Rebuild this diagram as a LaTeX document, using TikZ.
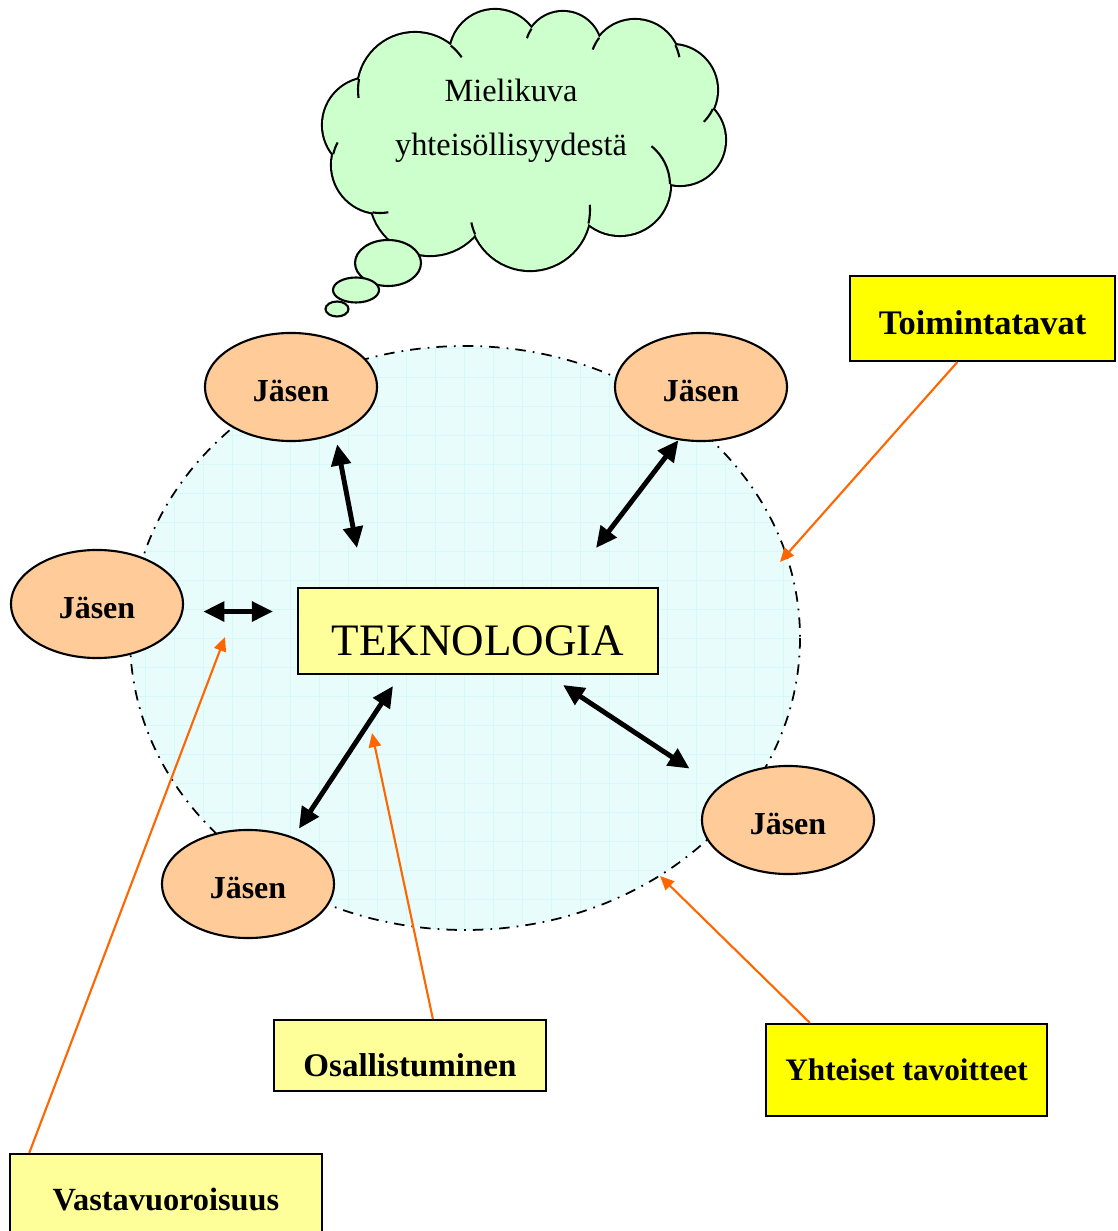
\documentclass[tikz,border=0pt]{standalone}
\usepackage{fontspec}
\setmainfont{Liberation Serif}
\usetikzlibrary{shapes.geometric,arrows.meta}
\definecolor{member}{HTML}{FFCC99}
\definecolor{pale}{HTML}{FFFF99}
\definecolor{bright}{HTML}{FFFF00}
\definecolor{mint}{HTML}{CCFFCC}
\definecolor{sky}{HTML}{E8FCFC}
\definecolor{skygrid}{HTML}{D6F8F8}
\definecolor{tangerine}{HTML}{FF6600}
\tikzset{
 jasen/.style={ellipse,draw,line width=.6pt,fill=member,minimum width=1.72cm,minimum height=1.08cm,inner sep=0pt,text height=8.3pt,text depth=0pt,font=\fontsize{9.1}{10}\selectfont\bfseries},
 lappu/.style={rectangle,draw,line width=.6pt,inner sep=0pt,font=\fontsize{9.2}{10}\selectfont\bfseries},
 vuoro/.style={line width=1.4pt,{Triangle[length=6pt,width=5.5pt]}-{Triangle[length=6pt,width=5.5pt]}},
 nuoli/.style={tangerine,line width=.6pt,-{Triangle[length=4pt,width=3.5pt]}}
}
\begin{document}
\begin{tikzpicture}[x=.01cm,y=-.01cm]
\useasboundingbox (0,0) rectangle (1117,1231);
\begin{scope}
\clip (465,638) ellipse [x radius=335,y radius=292];
\fill[sky] (130,340) rectangle (800,935);
\draw[skygrid,line width=.3pt,step=2.9mm] (100,960) grid (830,300);
\end{scope}
\draw[line width=.5pt,dash dot] (465,638) ellipse [x radius=335,y radius=292];
\begin{scope}
\foreach \x/\y/\r in {415/90/57,495/55/45,563/50/38,635/65/45,672/90/45,680/140/45,620/185/50,530/210/60,430/195/60,380/165/48,370/125/47}
 \draw[line width=1.2pt] (\x,\y) circle [radius=\r];
\foreach \x/\y/\r in {415/90/57,495/55/45,563/50/38,635/65/45,672/90/45,680/140/45,620/185/50,530/210/60,430/195/60,380/165/48,370/125/47}
 \fill[mint] (\x,\y) circle [radius=\r];
\fill[mint] (520,135) ellipse [x radius=150,y radius=80];
\foreach \x/\y/\r/\s/\d in {415/90/57/309/16,563/50/38/214/-16,635/65/45/217/-17,635/65/45/334/16,672/90/45/25/20,620/185/50/359/-50,530/210/60/13/-18,530/210/60/156/12,380/165/48/99/-19,380/165/48/193/15,415/90/57/191/-19}
 \draw[line width=.6pt] (\x,\y) ++(\s:\r) arc [start angle=\s,delta angle=\d,radius=\r];
\foreach \x/\y/\a/\b in {388/263/33/23,356/290/23/12.5,337/309/11.5/7.5}
 \filldraw[fill=mint,line width=.6pt] (\x,\y) ellipse [x radius=\a,y radius=\b];
\end{scope}
\node[font=\fontsize{9.2}{15.4}\selectfont,align=center] (mieli) at (511,121) {Mielikuva\\yhteisöllisyydestä};
\node[jasen] (j1) at (291,387) {Jäsen};
\node[jasen] (j2) at (701,387) {Jäsen};
\node[jasen] (j3) at (97,604) {Jäsen};
\node[jasen] (j4) at (248,884) {Jäsen};
\node[jasen] (j5) at (788,820) {Jäsen};
\node[lappu,fill=pale,minimum width=3.6cm,minimum height=.86cm,text height=14pt,text depth=0pt,font=\fontsize{12.8}{14}\selectfont] (tek) at (478,631) {TEKNOLOGIA};
\node[lappu,fill=bright,minimum width=2.65cm,minimum height=.85cm,text height=9pt,text depth=0pt,font=\fontsize{9.8}{10}\selectfont\bfseries] (toim) at (982.5,318.5) {Toimintatavat};
\node[lappu,fill=pale,minimum width=2.72cm,minimum height=.71cm,text height=12pt,text depth=0pt,font=\fontsize{9.4}{10}\selectfont\bfseries] (osa) at (410,1055.5) {Osallistuminen};
\node[lappu,fill=bright,minimum width=2.81cm,minimum height=.92cm,font=\fontsize{8.9}{10}\selectfont\bfseries] (yht) at (906.5,1070) {Yhteiset tavoitteet};
\node[lappu,fill=pale,minimum width=3.12cm,minimum height=.92cm] (vas) at (166,1200) {Vastavuoroisuus};
\coordinate (k1) at (357,548);
\coordinate (k2) at (596,548);
\coordinate (k3) at (273,611.5);
\coordinate (k4) at (393,686);
\coordinate (k5) at (563,685);
\draw[vuoro,shorten <=1mm] (j1.-47) -- (k1);
\draw[vuoro] (j2.-113) -- (k2);
\draw[vuoro,shorten <=2mm] (j3.-5) -- (k3);
\draw[vuoro,shorten <=1mm] (j4.46) -- (k4);
\draw[vuoro,shorten <=3.4mm] (j5.155) -- (k5);
\coordinate (o1) at (780,562);
\coordinate (o2) at (660,876);
\coordinate (o3) at (372,733);
\coordinate (o4) at (225,637);
\draw[nuoli] (toim.-120) -- (o1);
\draw[nuoli] (yht.154.5) -- (o2);
\draw[nuoli] (osa.58) -- (o3);
\draw[nuoli] (vas.161) -- (o4);
\end{tikzpicture}
\end{document}
